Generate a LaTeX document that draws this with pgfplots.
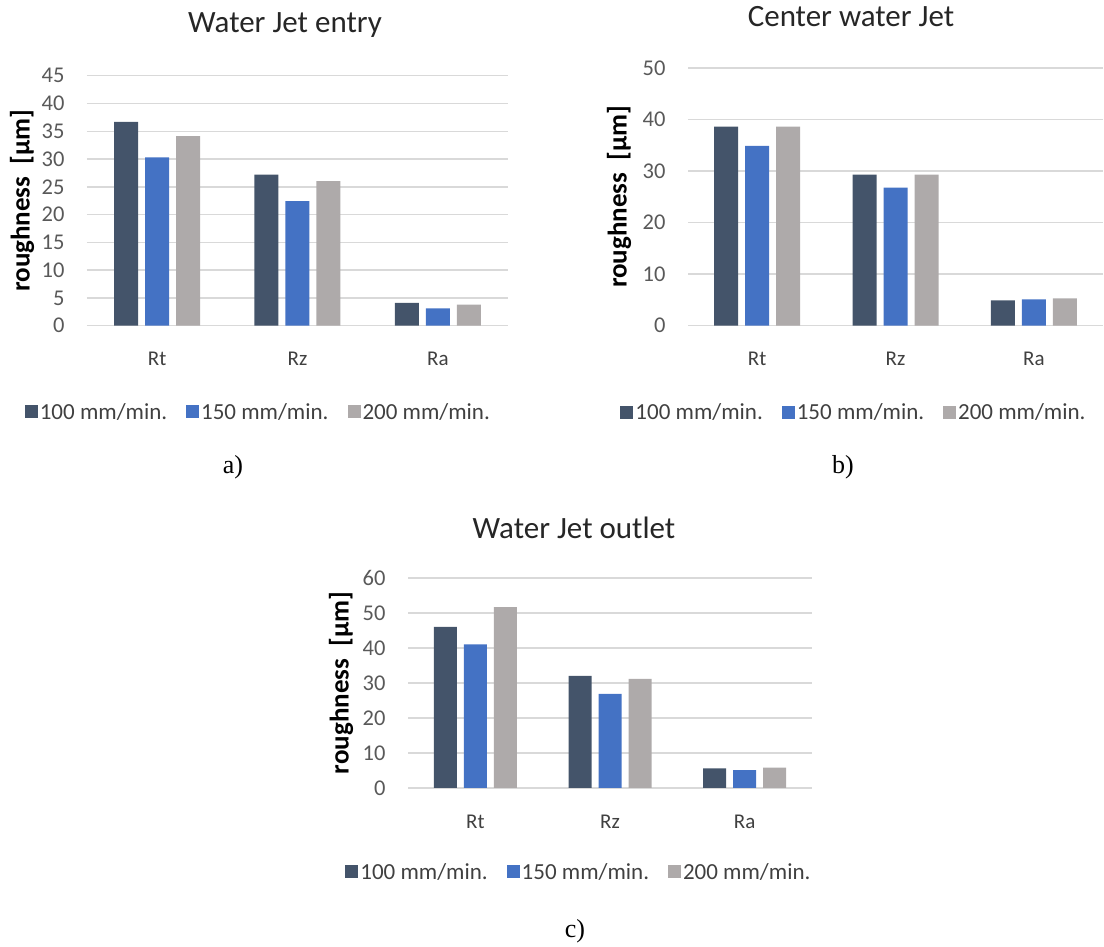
\documentclass[border=0pt]{standalone}
\usepackage{pgfplots}
\pgfplotsset{compat=1.18}
\usepackage{fontspec}
\setmainfont{Carlito}
\newfontfamily\timesf{Liberation Serif}
\definecolor{cA}{HTML}{44546A}
\definecolor{cB}{HTML}{4472C4}
\definecolor{cC}{HTML}{AEAAAA}
\definecolor{gridc}{HTML}{D9D9D9}
\definecolor{tickc}{HTML}{595959}
\definecolor{labc}{HTML}{404040}
\pgfplotsset{
  rough/.style={
    scale only axis,
    ybar=7pt, bar width=24pt,
    xmin=-0.5, xmax=2.5,
    xtick={0,1,2}, xticklabels={Rt,Rz,Ra},
    ymin=0,
    axis line style={draw=none},
    major tick length=0pt,
    ymajorgrids, grid style={gridc, line width=1.4pt},
    /pgf/number format/assume math mode=true,
    yticklabel style={font=\fontsize{22.5}{27}\selectfont, text=tickc, xshift=-19pt},
    xticklabel style={font=\fontsize{21}{25}\selectfont, text=labc, yshift=-23pt},
    ylabel={roughness\ \ [µm]},
    ylabel style={font=\fontsize{27}{31}\selectfont\bfseries, anchor=center},
    legend columns=3,
    legend style={draw=none, fill=none, font=\fontsize{23}{27}\selectfont, text=labc, anchor=center,
      /tikz/every even column/.append style={column sep=17pt}},
    legend image code/.code={\fill[##1] (0pt,-6.5pt) rectangle (13pt,6.5pt);},
  },
  s1/.style={fill=cA, draw=none},
  s2/.style={fill=cB, draw=none},
  s3/.style={fill=cC, draw=none},
}
\begin{document}
\begin{tikzpicture}
\useasboundingbox (0pt,0pt) rectangle (1104pt,947pt);
% a)
\begin{axis}[rough, anchor=south west, at={(87pt,621.3pt)}, width=421pt, height=250pt,
  ymax=45, ytick={0,5,...,45},
  ylabel style={at={(rel axis cs:-0.154,0.5)}},
  legend style={at={(rel axis cs:0.407,-0.345)}}]
\addplot[s1] coordinates {(0,36.7) (1,27.2) (2,4.1)};
\addplot[s2] coordinates {(0,30.3) (1,22.4) (2,3.1)};
\addplot[s3] coordinates {(0,34.1) (1,26.0) (2,3.8)};
\legend{100 mm/min.,150 mm/min.,200 mm/min.}
\end{axis}
% b)
\begin{axis}[rough, anchor=south west, at={(688pt,621.3pt)}, width=415pt, height=257.7pt,
  ymax=50, ytick={0,10,...,50},
  ylabel style={at={(rel axis cs:-0.166,0.5)}},
  legend style={at={(rel axis cs:0.40,-0.335)}}]
\addplot[s1] coordinates {(0,38.6) (1,29.3) (2,4.9)};
\addplot[s2] coordinates {(0,34.9) (1,26.8) (2,5.1)};
\addplot[s3] coordinates {(0,38.6) (1,29.3) (2,5.3)};
\legend{100 mm/min.,150 mm/min.,200 mm/min.}
\end{axis}
% c)
\begin{axis}[rough, anchor=south west, at={(408pt,159pt)}, width=404pt, height=210pt,
  bar width=23pt,
  ymax=60, ytick={0,10,...,60},
  ylabel style={at={(rel axis cs:-0.166,0.5)}},
  legend style={at={(rel axis cs:0.423,-0.40)}}]
\addplot[s1] coordinates {(0,46.0) (1,32.0) (2,5.6)};
\addplot[s2] coordinates {(0,41.0) (1,26.9) (2,5.1)};
\addplot[s3] coordinates {(0,51.7) (1,31.2) (2,5.8)};
\legend{100 mm/min.,150 mm/min.,200 mm/min.}
\end{axis}
% titles
\node[font=\fontsize{31}{35}\selectfont, text=black!85] at (285pt,922pt) {Water Jet entry};
\node[font=\fontsize{31}{35}\selectfont, text=black!85] at (851pt,930pt) {Center water Jet};
\node[font=\fontsize{31}{35}\selectfont, text=black!85] at (574pt,419pt) {Water Jet outlet};
\node[font=\fontsize{26}{30}\selectfont\timesf] at (233pt,480pt) {a)};
\node[font=\fontsize{26}{30}\selectfont\timesf] at (843pt,480pt) {b)};
\node[font=\fontsize{26}{30}\selectfont\timesf] at (575pt,16pt) {c)};
\end{tikzpicture}
\end{document}
